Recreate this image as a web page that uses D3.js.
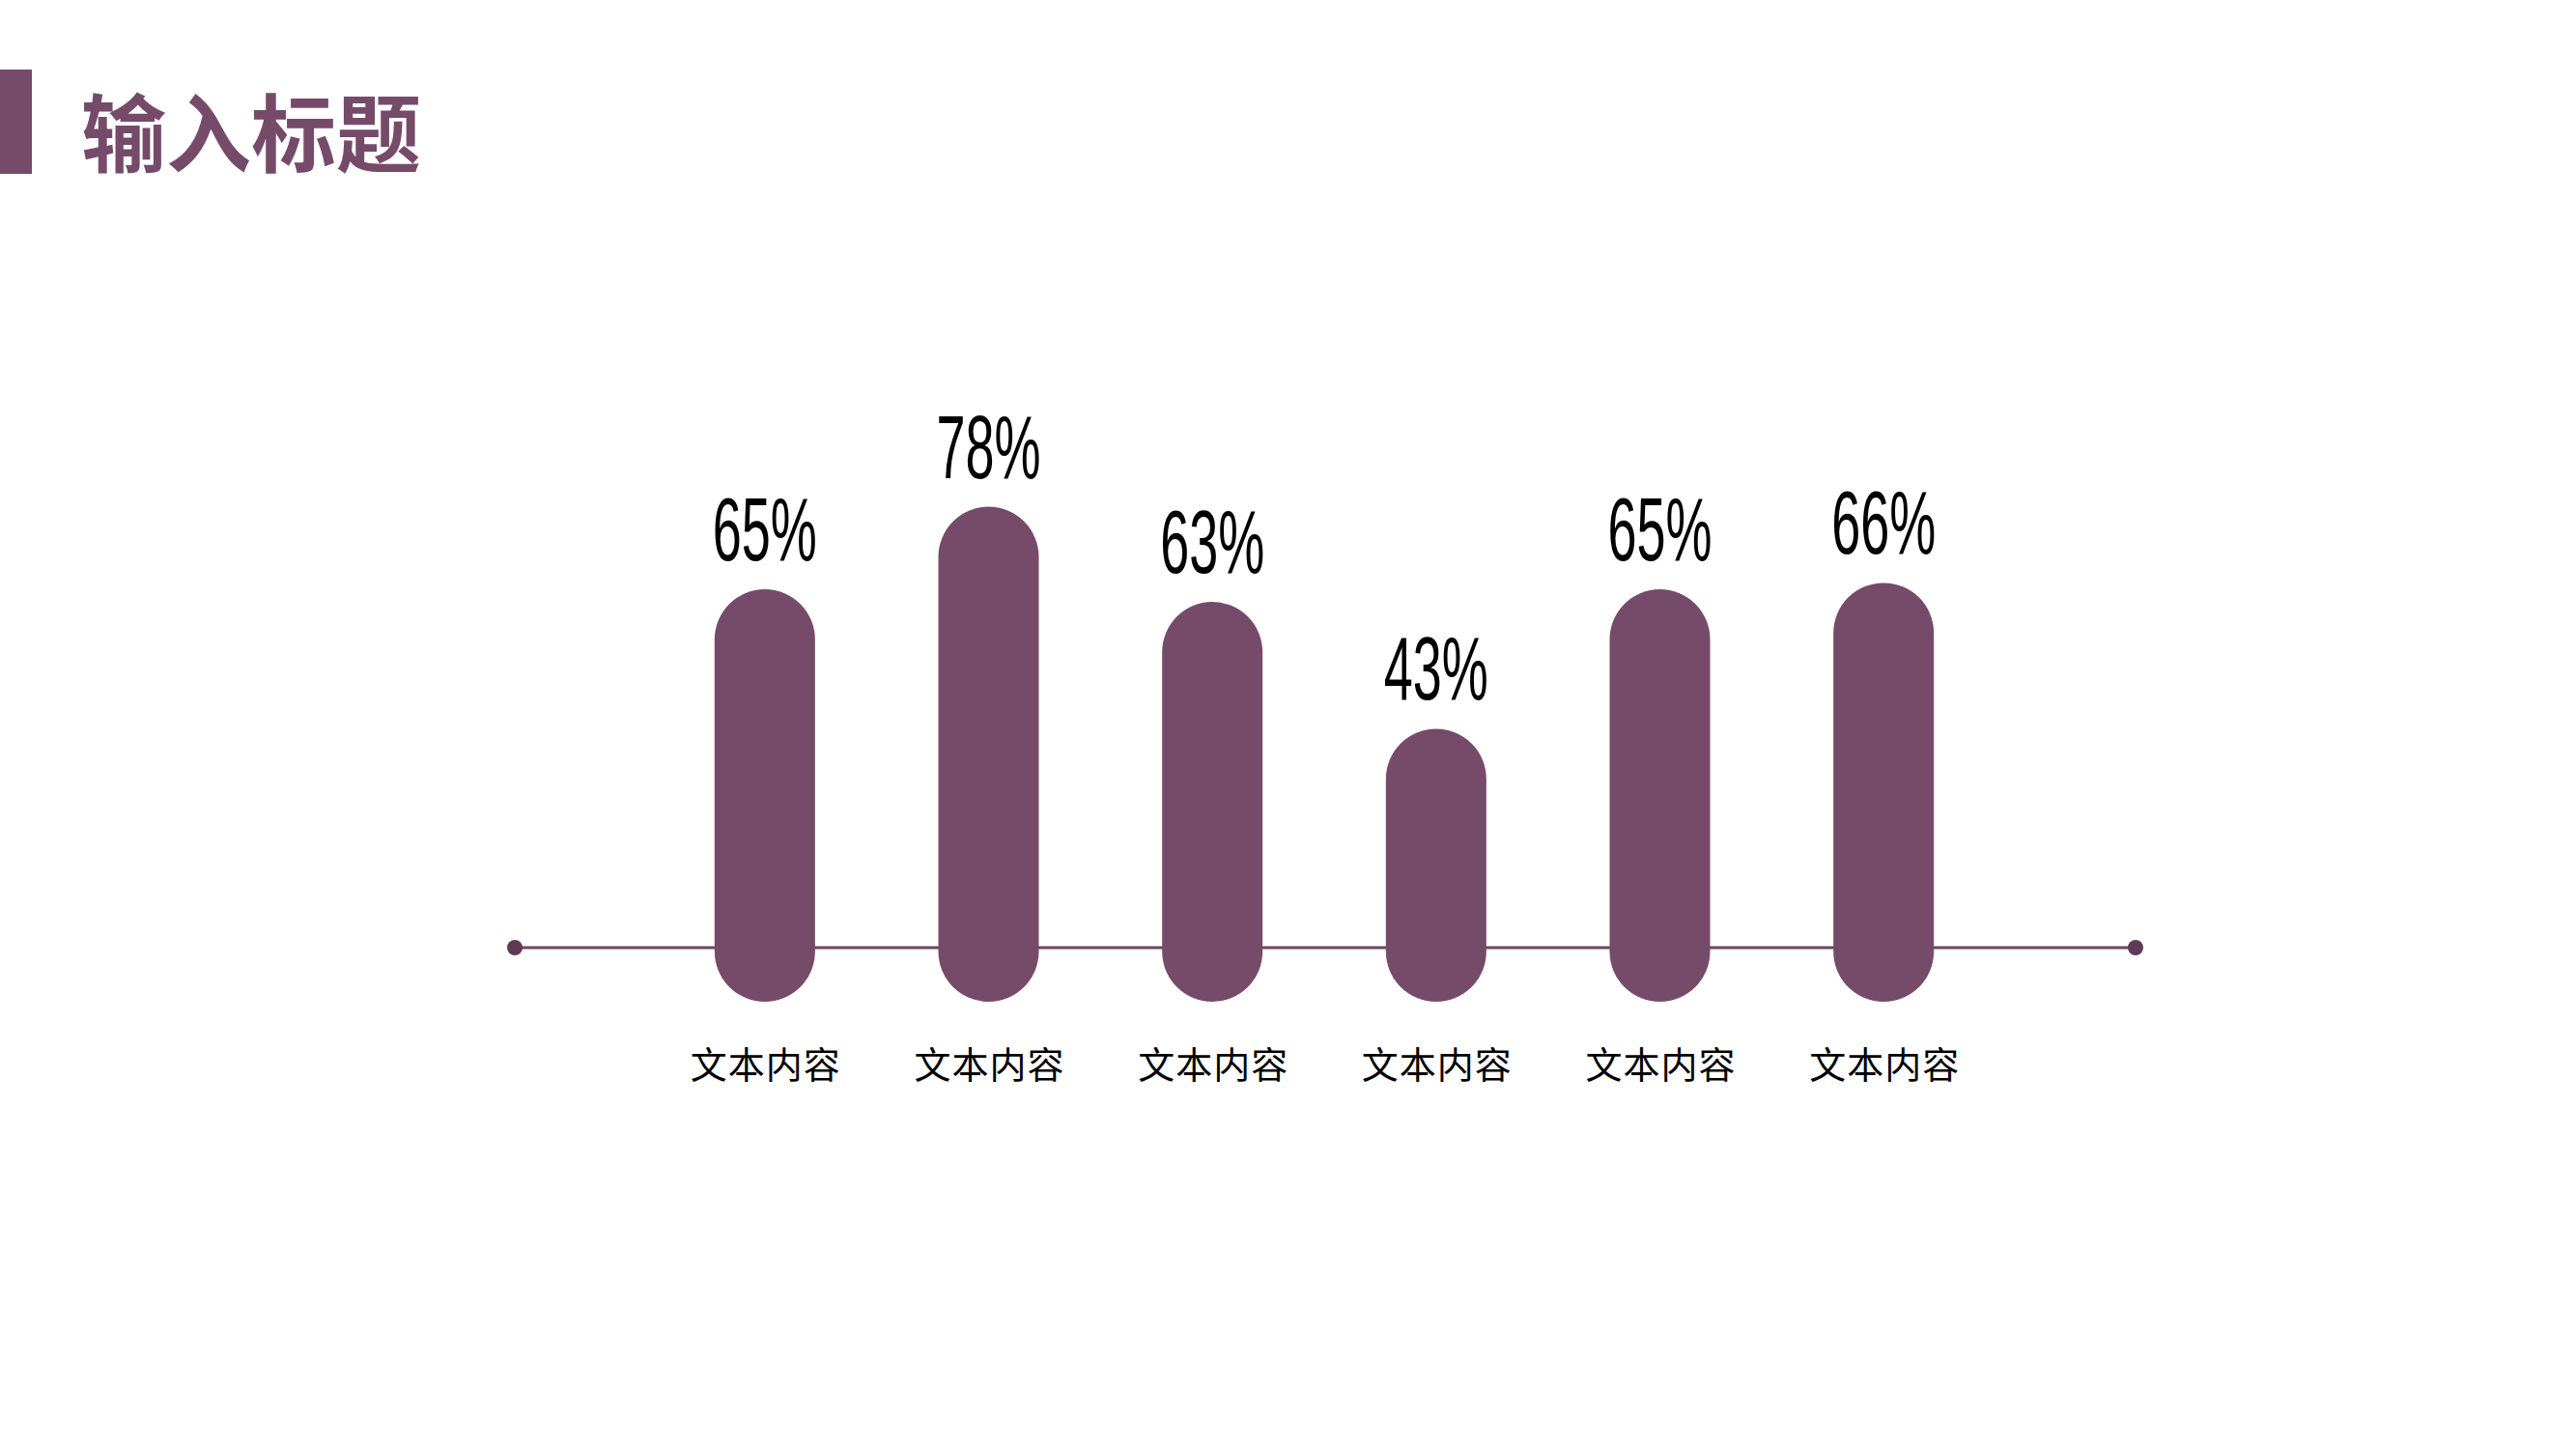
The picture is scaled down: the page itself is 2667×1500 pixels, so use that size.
<!DOCTYPE html>
<html>
<head>
<meta charset="utf-8">
<script src="https://cdn.jsdelivr.net/npm/d3@7"></script>
<style>
  html, body { margin: 0; padding: 0; background: #ffffff; }
  svg { display: block; }
</style>
</head>
<body>
<svg id="chart" width="2667" height="1500"></svg>
<script>
const title = "输入标题";
const categories = ["文本内容", "文本内容", "文本内容", "文本内容", "文本内容", "文本内容"];
const values = [65, 78, 63, 43, 65, 66];
const valueLabels = ["65%", "78%", "63%", "43%", "65%", "66%"];

const W = 2667, H = 1500;
const purple = "#764B6A";
const svg = d3.select("#chart");

svg.append("rect").attr("width", W).attr("height", H).attr("fill", "#ffffff");

// title block
svg.append("rect").attr("x", 0).attr("y", 72).attr("width", 33).attr("height", 108).attr("fill", purple);
svg.append("text")
  .attr("x", 84).attr("y", 132)
  .attr("dominant-baseline", "central")
  .attr("font-family", "'Noto Sans CJK SC', sans-serif")
  .attr("font-weight", 700)
  .attr("font-size", 88)
  .attr("fill", purple)
  .text(title);

// scales
const x = d3.scaleBand()
  .domain(d3.range(categories.length))
  .range([676, 2066])
  .paddingInner(0.55)
  .paddingOuter(0.275);
const y = d3.scaleLinear().domain([0, 100]).range([1037, 380]);

const bw = 104;

// baseline line with end dots
const lineY = 981;
svg.append("line")
  .attr("x1", 533).attr("x2", 2211)
  .attr("y1", lineY).attr("y2", lineY)
  .attr("stroke", "#6B4761").attr("stroke-width", 3);
svg.selectAll("circle.end").data([533, 2211]).enter().append("circle")
  .attr("class", "end")
  .attr("cx", d => d).attr("cy", lineY).attr("r", 8)
  .attr("fill", "#5E3A55");

const cx = i => x(i) + x.bandwidth() / 2;

// pill bars
svg.selectAll("rect.bar").data(values).enter().append("rect")
  .attr("class", "bar")
  .attr("x", (d, i) => cx(i) - bw / 2)
  .attr("y", d => y(d))
  .attr("width", bw)
  .attr("height", d => y(0) - y(d))
  .attr("rx", bw / 2).attr("ry", bw / 2)
  .attr("fill", purple);

// value labels (condensed)
svg.selectAll("text.val").data(values).enter().append("text")
  .attr("class", "val")
  .attr("transform", (d, i) => `translate(${cx(i)},${y(d) - 30}) scale(0.58,1)`)
  .attr("text-anchor", "middle")
  .attr("font-family", "'Liberation Sans', Arial, sans-serif")
  .attr("font-size", 93)
  .attr("fill", "#000000")
  .text((d, i) => valueLabels[i]);

// category labels
svg.selectAll("text.cat").data(categories).enter().append("text")
  .attr("class", "cat")
  .attr("x", (d, i) => cx(i) + 1)
  .attr("y", 1099)
  .attr("text-anchor", "middle")
  .attr("dominant-baseline", "central")
  .attr("font-family", "'Noto Sans CJK SC', sans-serif")
  .attr("font-size", 38)
  .attr("letter-spacing", 1)
  .attr("fill", "#000000")
  .text(d => d);
</script>
</body>
</html>
